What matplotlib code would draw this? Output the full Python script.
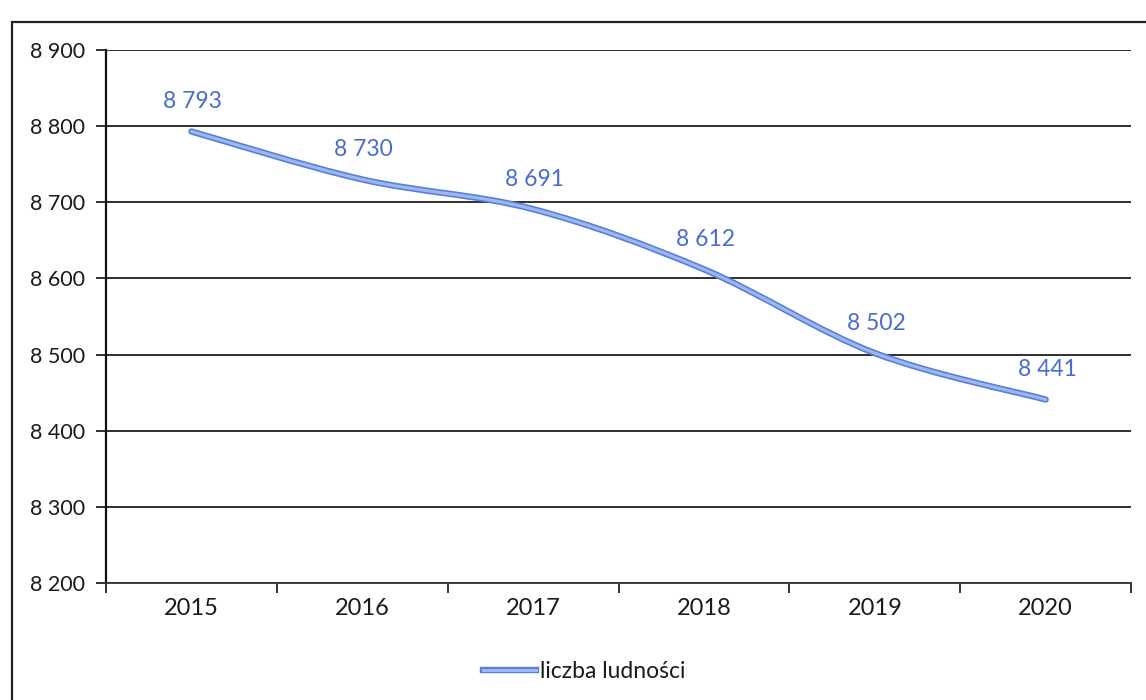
"""
population line chart (liczba ludnosci 2015-2020)
"""

import matplotlib.pyplot as plt
import numpy as np
from matplotlib.patches import PathPatch, Rectangle
from matplotlib.path import Path
from matplotlib.ticker import FuncFormatter, MultipleLocator

# --------------------------------
#       DATA
# --------------------------------
years = ["2015", "2016", "2017", "2018", "2019", "2020"]
population = [8793, 8730, 8691, 8612, 8502, 8441]
series_label = "liczba ludności"

y_min, y_max, y_step = 8200, 8900, 100

plt.rcParams["font.family"] = ["Lato", "DejaVu Sans"]

LINE_DARK = "#5a7fd8"
LINE_LIGHT = "#9db8f0"
LABEL_BLUE = "#4a6ccf"
TEXT = "#1a1a1a"


def smooth_path(x, y, tension=1 / 6):
    """Bezier path through the points (Excel-like smoothed line)."""
    verts = [(x[0], y[0])]
    codes = [Path.MOVETO]
    n = len(x)
    for i in range(n - 1):
        x0, y0 = (x[i - 1], y[i - 1]) if i > 0 else (x[i], y[i])
        x3, y3 = (x[i + 2], y[i + 2]) if i + 2 < n else (x[i + 1], y[i + 1])
        c1 = (x[i] + (x[i + 1] - x0) * tension, y[i] + (y[i + 1] - y0) * tension)
        c2 = (x[i + 1] - (x3 - x[i]) * tension, y[i + 1] - (y3 - y[i]) * tension)
        verts += [c1, c2, (x[i + 1], y[i + 1])]
        codes += [Path.CURVE4] * 3
    return Path(verts, codes)


fig = plt.figure(figsize=(11.46, 7.0), dpi=100)
ax = fig.add_axes([0.0925, 0.167, 0.8945, 0.7616])

# outer frame (scanned page border, partly cut off)
fig.patches.append(
    Rectangle(
        (12 / 1146, -0.2),
        1.2,
        1.2 - 22 / 700,
        transform=fig.transFigure,
        fill=False,
        edgecolor="#222222",
        linewidth=1.6,
        zorder=0,
    )
)

xs = np.arange(len(years))
path = smooth_path(xs, population)
ax.add_patch(
    PathPatch(path, facecolor="none", edgecolor=LINE_DARK, linewidth=4.6,
              capstyle="round", joinstyle="round", zorder=3)
)
ax.add_patch(
    PathPatch(path, facecolor="none", edgecolor=LINE_LIGHT, linewidth=2.2,
              capstyle="round", joinstyle="round", zorder=4)
)

for x, v in zip(xs, population):
    ax.annotate(
        f"{v:,}".replace(",", " "),
        (x, v),
        xytext=(1, 14),
        textcoords="offset points",
        ha="center",
        va="bottom",
        color=LABEL_BLUE,
        fontsize=16.5,
        zorder=5,
    )

ax.set_xlim(-0.5, len(years) - 0.5)
ax.set_ylim(y_min, y_max)
ax.yaxis.set_major_locator(MultipleLocator(y_step))
ax.yaxis.set_major_formatter(FuncFormatter(lambda v, _: f"{int(v):,}".replace(",", " ")))
ax.grid(axis="y", color="#1e1e1e", linewidth=1.3, zorder=1)
ax.set_axisbelow(True)

ax.set_xticks(xs)
ax.set_xticklabels(years)
ax.set_xticks(np.arange(-0.5, len(years)), minor=True)
ax.tick_params(axis="x", which="major", length=0, labelsize=17, pad=11,
               labelcolor=TEXT)
ax.tick_params(axis="x", which="minor", length=7, width=1.3, color="#222222")
ax.tick_params(axis="y", length=7, width=1.3, color="#222222", labelsize=15.5,
               pad=8, labelcolor=TEXT)

for side in ("top", "right"):
    ax.spines[side].set_visible(False)
ax.spines["left"].set_linewidth(1.6)
ax.spines["left"].set_color("#111111")
ax.spines["bottom"].set_linewidth(1.3)
ax.spines["bottom"].set_color("#333333")

legend_handle = plt.Line2D([], [], color=LINE_DARK, linewidth=4.6)
legend_handle2 = plt.Line2D([], [], color=LINE_LIGHT, linewidth=2.2)
leg = fig.legend(
    [(legend_handle, legend_handle2)],
    [series_label],
    loc="center",
    bbox_to_anchor=(0.51, 1 - 672 / 700),
    frameon=False,
    fontsize=16.5,
    handlelength=2.3,
    handletextpad=0.2,
)
for t in leg.get_texts():
    t.set_color(TEXT)

fig.savefig("out.png", dpi=100)
